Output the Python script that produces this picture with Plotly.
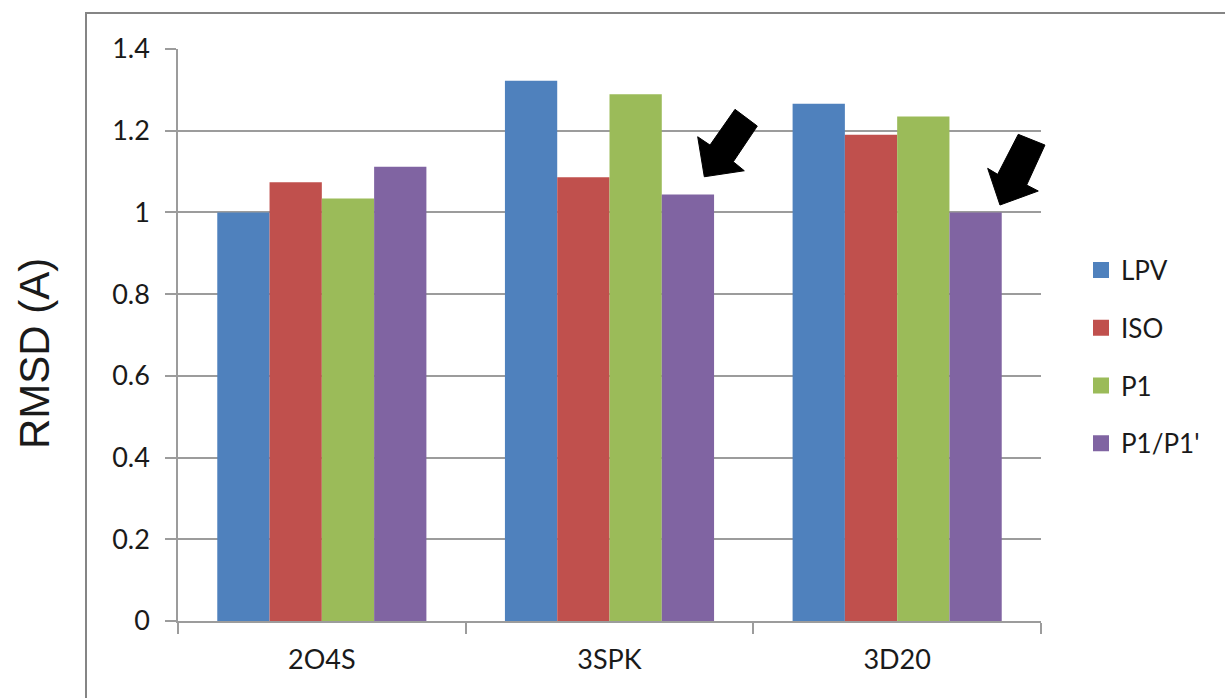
import plotly.graph_objects as go

# ---- data -------------------------------------------------------------
proteins = ["2O4S", "3SPK", "3D20"]
methods = ["LPV", "ISO", "P1", "P1/P1'"]
rmsd_lpv = [1.000, 1.322, 1.266]
rmsd_iso = [1.074, 1.086, 1.190]
rmsd_p1 = [1.034, 1.289, 1.235]
rmsd_p1p1 = [1.112, 1.044, 1.000]
y_tick_vals = [0, 0.2, 0.4, 0.6, 0.8, 1.0, 1.2, 1.4]
y_tick_text = ["0", "0.2", "0.4", "0.6", "0.8", "1", "1.2", "1.4"]
highlighted = ["3SPK", "3D20"]  # proteins where P1/P1' gives the best fit

# ---- styling ----------------------------------------------------------
colors = ["#4F81BD", "#C0504D", "#9BBB59", "#8064A2"]
grid_color = "#9c9c9c"
label_font = dict(family="Lato, 'Open Sans', sans-serif", size=27, color="#1a1a1a")

W, H = 1225, 698
M_L, M_R, M_T, M_B = 178, 184, 49, 77
PLOT_W, PLOT_H = W - M_L - M_R, H - M_T - M_B


def px_to_paper_x(px):
    return (px - M_L) / PLOT_W


def px_to_paper_y(py):
    return (H - M_B - py) / PLOT_H


series = [rmsd_lpv, rmsd_iso, rmsd_p1, rmsd_p1p1]

fig = go.Figure()
for name, vals, col in zip(methods, series, colors):
    fig.add_trace(go.Bar(
        x=proteins, y=vals, name=name, marker=dict(color=col, line=dict(width=0)),
        showlegend=False,
    ))
    # larger square swatch for the legend
    fig.add_trace(go.Scatter(
        x=[None], y=[None], mode="markers", name=name, legendgroup=name,
        marker=dict(symbol="square", size=16, color=col),
    ))

# block arrows pointing at the P1/P1' bars (pixel offsets from the bar top,
# anchored horizontally at the centre of the protein's category slot)
arrow_paths = {
    "3SPK": [(125.5, 85.1), (147.8, 68.4), (123.8, 32.7), (134.8, 23.7),
             (94.8, 17.7), (88.2, 57.7), (100.5, 49.4)],
    "3D20": [(121.1, 78.1), (147.8, 67.4), (129.5, 27.4), (141.1, 21.4),
             (102.8, 7.4), (90.5, 44.1), (100.5, 38.1)],
}
for prot in highlighted:
    idx = proteins.index(prot)
    pts = arrow_paths[prot]
    path = "M " + " L ".join(f"{x},{y}" for x, y in pts) + " Z"
    fig.add_shape(
        type="path", path=path, xref="paper", yref="y",
        xsizemode="pixel", ysizemode="pixel",
        xanchor=(idx + 0.5) / len(proteins), yanchor=rmsd_p1p1[idx],
        fillcolor="black", line=dict(color="black", width=1), layer="above",
    )

# outer chart frame
fig.add_shape(
    type="rect", xref="paper", yref="paper",
    x0=px_to_paper_x(86), x1=px_to_paper_x(W + 20),
    y0=px_to_paper_y(H + 20), y1=px_to_paper_y(13),
    line=dict(color="#858585", width=2), fillcolor="rgba(0,0,0,0)", layer="below",
)

# vertical axis title
fig.add_annotation(
    text="RMSD (A)", textangle=-90, showarrow=False,
    xref="paper", yref="paper", x=px_to_paper_x(34), y=px_to_paper_y(354),
    xanchor="center", yanchor="middle",
    font=dict(family="'Liberation Sans', Arial, sans-serif", size=42, color="#1a1a1a"),
)

fig.update_layout(
    width=W, height=H,
    margin=dict(l=M_L, r=M_R, t=M_T, b=M_B, pad=0),
    paper_bgcolor="white", plot_bgcolor="white",
    barmode="group", bargap=0.273, bargroupgap=0,
    showlegend=True,
    legend=dict(
        x=px_to_paper_x(1081), xanchor="left",
        y=px_to_paper_y(357), yanchor="middle",
        font=dict(family="Lato, 'Open Sans', sans-serif", size=26, color="#1a1a1a"),
        traceorder="grouped", tracegroupgap=21,
        bgcolor="rgba(0,0,0,0)", borderwidth=0, itemsizing="trace",
    ),
    xaxis=dict(
        type="category", range=[-0.5, 2.5],
        showline=True, linecolor=grid_color, linewidth=1.5,
        ticks="outside", tickson="boundaries", ticklen=11, tickcolor=grid_color,
        tickwidth=1.5, showgrid=False, tickfont=label_font, ticklabelstandoff=14,
    ),
    yaxis=dict(
        range=[0, 1.4], tickvals=y_tick_vals, ticktext=y_tick_text,
        showline=True, linecolor=grid_color, linewidth=1.5,
        ticks="outside", ticklen=11, tickcolor=grid_color, tickwidth=1.5,
        showgrid=True, gridcolor=grid_color, gridwidth=1.5, zeroline=False,
        tickfont=label_font, ticklabelstandoff=10,
    ),
)

fig.write_html("out.html")
